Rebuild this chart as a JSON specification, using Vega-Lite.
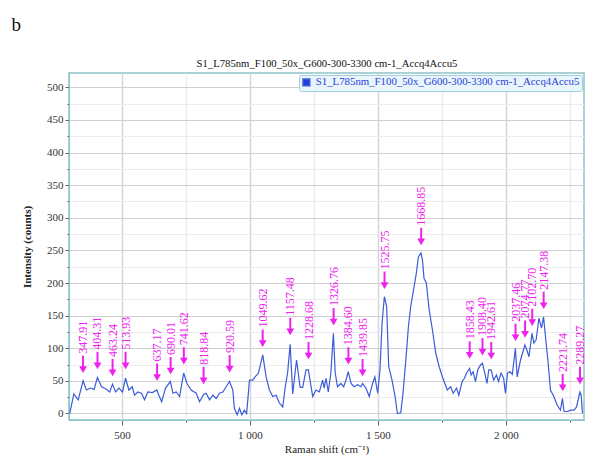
{
  "$schema": "https://vega.github.io/schema/vega-lite/v6.json",
  "autosize": {"type": "none"},
  "width": 515,
  "height": 347,
  "padding": {"left": 69, "top": 73, "right": 21, "bottom": 46},
  "background": "white",
  "title": {"text": "b", "anchor": "start", "frame": "bounds", "fontSize": 19, "font": "Liberation Serif", "fontWeight": "normal", "color": "#111", "dx": -10, "offset": 22},
  "config": {
    "font": "Liberation Serif",
    "view": {"stroke": "#8cc3c8", "strokeWidth": 1.5},
    "axis": {"labelFont": "Liberation Serif", "titleFont": "Liberation Serif", "labelFontSize": 11, "titleFontSize": 11, "labelColor": "#333", "titleColor": "#222", "titleFontWeight": "normal", "domainColor": "#8cc3c8", "tickColor": "#666"}
  },
  "resolve": {"axis": {"x": "independent", "y": "independent"}},
  "layer": [
    {
      "data": {"values": [
        {"s":296,"v":0},{"s":312,"v":30},{"s":329,"v":21},{"s":348,"v":50},{"s":361,"v":36},{"s":377,"v":39},{"s":391,"v":37},{"s":404,"v":55},{"s":420,"v":41},{"s":439,"v":37},{"s":452,"v":33},{"s":463,"v":45},{"s":475,"v":33},{"s":488,"v":39},{"s":502,"v":33},{"s":514,"v":54},{"s":527,"v":36},{"s":540,"v":41},{"s":549,"v":28},{"s":562,"v":33},{"s":576,"v":31},{"s":588,"v":21},{"s":601,"v":33},{"s":619,"v":32},{"s":636,"v":36},{"s":644,"v":28},{"s":655,"v":18},{"s":670,"v":39},{"s":689,"v":49},{"s":699,"v":31},{"s":712,"v":33},{"s":725,"v":26},{"s":741,"v":62},{"s":754,"v":46},
        {"s":770,"v":36},{"s":790,"v":31},{"s":803,"v":18},{"s":819,"v":29},{"s":829,"v":31},{"s":842,"v":21},{"s":855,"v":28},{"s":868,"v":23},{"s":881,"v":31},{"s":894,"v":33},{"s":907,"v":41},{"s":920,"v":49},{"s":933,"v":36},{"s":939,"v":8},{"s":950,"v":-2},{"s":959,"v":8},{"s":968,"v":-2},{"s":978,"v":5},{"s":987,"v":0},{"s":998,"v":51},{"s":1011,"v":51},{"s":1020,"v":56},{"s":1033,"v":62},{"s":1050,"v":90},{"s":1063,"v":56},{"s":1076,"v":36},{"s":1089,"v":26},{"s":1102,"v":28},{"s":1115,"v":16},{"s":1128,"v":10},{"s":1138,"v":41},{"s":1147,"v":62},{"s":1157,"v":106},{"s":1167,"v":30},{"s":1182,"v":82},{"s":1196,"v":40},{"s":1206,"v":40},{"s":1219,"v":67},{"s":1228,"v":67},{"s":1240,"v":38},
        {"s":1245,"v":26},{"s":1258,"v":36},{"s":1271,"v":33},{"s":1284,"v":51},{"s":1290,"v":39},{"s":1297,"v":54},{"s":1306,"v":33},{"s":1316,"v":62},{"s":1326,"v":123},{"s":1333,"v":62},{"s":1342,"v":41},{"s":1355,"v":46},{"s":1366,"v":41},{"s":1375,"v":51},{"s":1384,"v":64},{"s":1395,"v":46},{"s":1407,"v":41},{"s":1421,"v":44},{"s":1434,"v":41},{"s":1440,"v":46},{"s":1453,"v":39},{"s":1466,"v":26},{"s":1479,"v":46},{"s":1488,"v":56},{"s":1499,"v":31},{"s":1508,"v":67},{"s":1516,"v":138},{"s":1525,"v":179},{"s":1534,"v":164},{"s":1542,"v":72},{"s":1555,"v":51},{"s":1567,"v":26},{"s":1576,"v":0},{"s":1589,"v":1},{"s":1598,"v":31},{"s":1609,"v":82},{"s":1619,"v":133},{"s":1628,"v":164},{"s":1641,"v":194},{"s":1650,"v":215},{"s":1658,"v":240},{"s":1668,"v":246},{"s":1674,"v":235},{"s":1680,"v":207},{"s":1689,"v":200},{"s":1700,"v":159},{"s":1713,"v":128},{"s":1726,"v":92},{"s":1739,"v":72},{"s":1752,"v":56},
        {"s":1771,"v":36},{"s":1784,"v":41},{"s":1794,"v":31},{"s":1807,"v":39},{"s":1816,"v":28},{"s":1829,"v":49},{"s":1838,"v":54},{"s":1846,"v":62},{"s":1858,"v":69},{"s":1864,"v":59},{"s":1872,"v":64},{"s":1881,"v":49},{"s":1890,"v":67},{"s":1900,"v":74},{"s":1908,"v":77},{"s":1916,"v":64},{"s":1926,"v":46},{"s":1933,"v":67},{"s":1942,"v":67},{"s":1952,"v":51},{"s":1963,"v":59},{"s":1971,"v":49},{"s":1981,"v":62},{"s":1991,"v":54},{"s":1998,"v":31},{"s":2006,"v":62},{"s":2016,"v":64},{"s":2025,"v":60},{"s":2037,"v":100},{"s":2044,"v":56},{"s":2057,"v":82},{"s":2074,"v":105},{"s":2082,"v":97},{"s":2090,"v":87},{"s":2102,"v":123},{"s":2109,"v":108},{"s":2118,"v":113},{"s":2129,"v":146},{"s":2139,"v":131},{"s":2147,"v":148},{"s":2157,"v":108},{"s":2165,"v":77},{"s":2174,"v":36},{"s":2187,"v":26},{"s":2200,"v":13},{"s":2213,"v":5},{"s":2221,"v":23},{"s":2227,"v":3},{"s":2240,"v":3},{"s":2253,"v":5},{"s":2266,"v":5},{"s":2276,"v":10},{"s":2289,"v":33},{"s":2294,"v":28},{"s":2299,"v":0}
      ]},
      "mark": {"type": "line", "strokeWidth": 1.2, "clip": true},
      "encoding": {
        "x": {"field": "s", "type": "quantitative", "scale": {"domain": [293, 2305], "nice": false, "zero": false},
          "axis": {"orient": "bottom", "title": "Raman shift (cm⁻¹)", "values": [500, 750, 1000, 1250, 1500, 1750, 2000, 2250],
            "labelExpr": "datum.value % 500 === 0 ? replace(format(datum.value, ','), ',', ' ') : ''",
            "labelFont": "Liberation Serif", "titleFont": "Liberation Serif",
            "grid": true, "gridWidth": 1.5,
            "gridColor": {"condition": {"test": "datum.value % 500 === 0", "value": "#d6d6d6"}, "value": "#eeeeee"},
            "tickSize": {"condition": {"test": "datum.value % 500 === 0", "value": 5}, "value": 2},
            "labelPadding": 4, "titlePadding": 3}},
        "y": {"field": "v", "type": "quantitative", "scale": {"domain": [-10, 522], "nice": false, "zero": false},
          "axis": {"orient": "left", "title": "Intensity (counts)", "values": [0, 25, 50, 75, 100, 125, 150, 175, 200, 225, 250, 275, 300, 325, 350, 375, 400, 425, 450, 475, 500],
            "labelExpr": "datum.value % 50 === 0 ? datum.label : ''",
            "labelFont": "Liberation Serif", "titleFont": "Liberation Serif", "titleFontWeight": "bold",
            "grid": true, "gridWidth": 1.2,
            "gridColor": {"condition": {"test": "datum.value % 50 === 0", "value": "#d0d0d0"}, "value": "#ececec"},
            "tickSize": {"condition": {"test": "datum.value % 50 === 0", "value": 4}, "value": 2},
            "labelPadding": 2, "titlePadding": 14}},
        "color": {"datum": "S1_L785nm_F100_50x_G600-300-3300 cm-1_Accq4Accu5", "type": "nominal",
          "scale": {"range": ["#3a5cd8"]},
          "legend": {"orient": "top-right", "offset": 2, "title": null, "fillColor": "#e9f5fa", "strokeColor": "#9fd0dc", "padding": 2, "cornerRadius": 2,
            "labelColor": "#1f3fe0", "labelFont": "Liberation Serif", "labelFontSize": 10.8, "labelLimit": 0,
            "symbolType": "square", "symbolSize": 45, "symbolFillColor": "#1f3fe0", "symbolStrokeColor": "#1f3fe0",
            "encode": {"symbols": {"update": {"fill": {"value": "#1f3fe0"}, "stroke": {"value": "#1f3fe0"}}}}}}
      }
    },
    {
      "data": {"name": "peaks", "values": [
        {"x":347.91,"lab":"347.91","tip":61},{"x":404.31,"lab":"404.31","tip":67},{"x":463.24,"lab":"463.24","tip":56},{"x":513.93,"lab":"513.93","tip":67},
        {"x":637.17,"lab":"637.17","tip":49},{"x":690.01,"lab":"690.01","tip":59},{"x":741.62,"lab":"741.62","tip":74},{"x":818.84,"lab":"818.84","tip":44},
        {"x":920.59,"lab":"920.59","tip":62},{"x":1049.62,"lab":"1049.62","tip":101},{"x":1157.48,"lab":"1157.48","tip":119},{"x":1228.68,"lab":"1228.68","tip":82},
        {"x":1326.76,"lab":"1326.76","tip":134},{"x":1384.60,"lab":"1384.60","tip":74},{"x":1439.85,"lab":"1439.85","tip":56},{"x":1525.75,"lab":"1525.75","tip":190},
        {"x":1668.85,"lab":"1668.85","tip":257},{"x":1858.43,"lab":"1858.43","tip":83},{"x":1908.40,"lab":"1908.40","tip":88},{"x":1942.61,"lab":"1942.61","tip":82},
        {"x":2037.46,"lab":"2037.46","tip":110},{"x":2074.77,"lab":"2074.77","tip":115},{"x":2102.70,"lab":"2102.70","tip":133},{"x":2147.38,"lab":"2147.38","tip":159},
        {"x":2221.74,"lab":"2221.74","tip":33},{"x":2289.27,"lab":"2289.27","tip":44}
      ]},
      "mark": {"type": "rule", "color": "#ee22ee", "strokeWidth": 2, "yOffset": -6, "y2Offset": -18},
      "encoding": {
        "x": {"field": "x", "type": "quantitative", "axis": null},
        "y": {"field": "tip", "type": "quantitative", "axis": null},
        "y2": {"field": "tip"}
      }
    },
    {
      "data": {"name": "peaks"},
      "mark": {"type": "point", "shape": "triangle-down", "filled": true, "size": 60, "color": "#ee22ee", "opacity": 1, "yOffset": -4},
      "encoding": {
        "x": {"field": "x", "type": "quantitative", "axis": null},
        "y": {"field": "tip", "type": "quantitative", "axis": null}
      }
    },
    {
      "data": {"name": "peaks"},
      "mark": {"type": "text", "angle": 270, "align": "left", "baseline": "middle", "font": "Liberation Serif", "fontSize": 12, "color": "#ee22ee", "yOffset": -20},
      "encoding": {
        "x": {"field": "x", "type": "quantitative",
          "axis": {"orient": "top", "title": "S1_L785nm_F100_50x_G600-300-3300 cm-1_Accq4Accu5", "labels": false, "ticks": false, "domain": false, "grid": false, "titlePadding": 5, "titleFont": "Liberation Serif", "titleFontSize": 10.7, "titleColor": "#111"}},
        "y": {"field": "tip", "type": "quantitative", "axis": null},
        "text": {"field": "lab"}
      }
    }
  ]
}
